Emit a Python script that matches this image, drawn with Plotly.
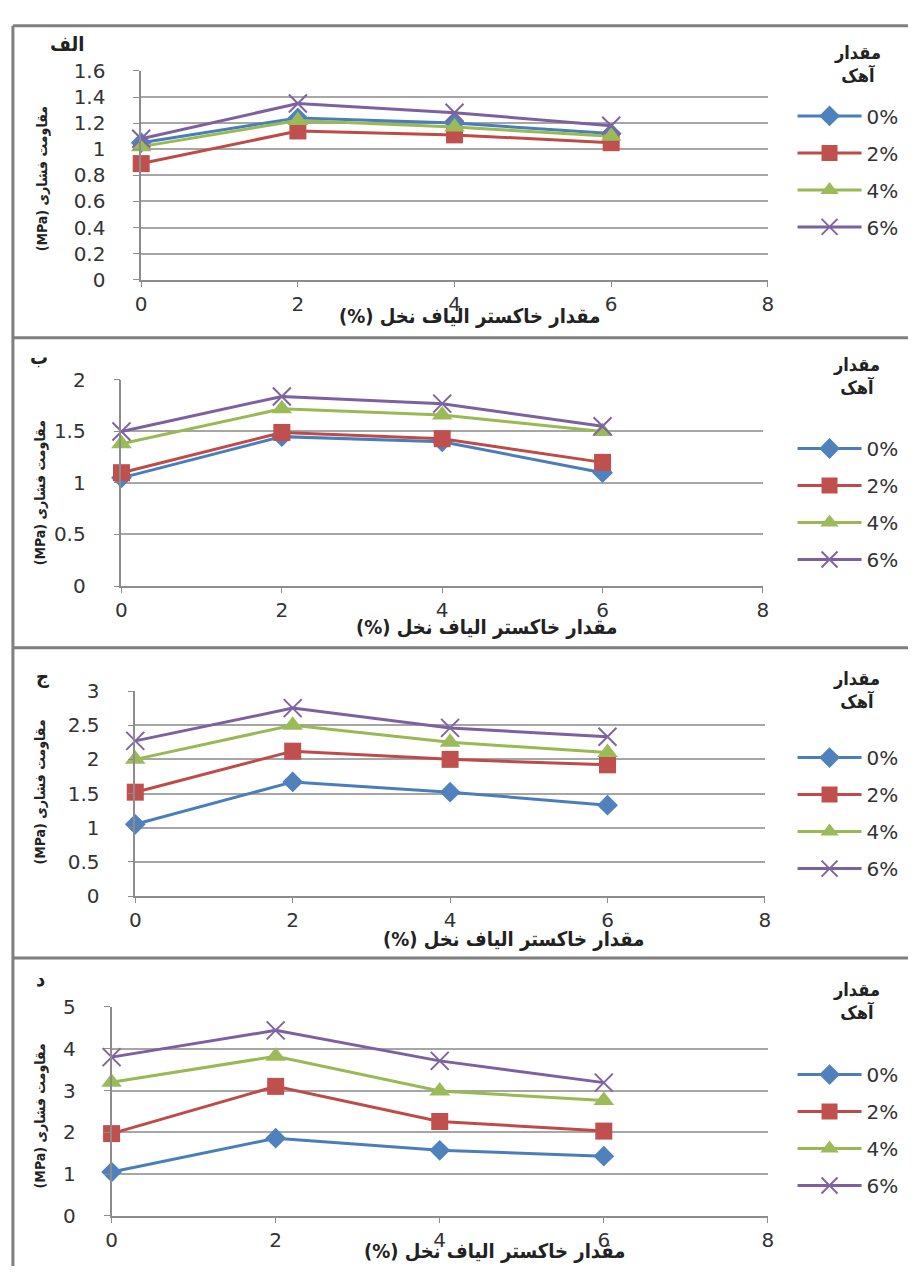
import plotly.graph_objects as go

# Palm-fibre ash content (%) on the x axis
ash = [0, 2, 4, 6]

# Lime content series names
lime_names = ["0%", "2%", "4%", "6%"]

# Compressive strength (MPa) per panel, one list per lime content
panel_a_0 = [1.05, 1.24, 1.20, 1.12]
panel_a_2 = [0.89, 1.14, 1.11, 1.05]
panel_a_4 = [1.02, 1.22, 1.17, 1.10]
panel_a_6 = [1.08, 1.35, 1.28, 1.18]

panel_b_0 = [1.05, 1.45, 1.40, 1.10]
panel_b_2 = [1.10, 1.49, 1.43, 1.20]
panel_b_4 = [1.38, 1.72, 1.66, 1.50]
panel_b_6 = [1.50, 1.84, 1.77, 1.55]

panel_c_0 = [1.05, 1.67, 1.52, 1.33]
panel_c_2 = [1.52, 2.12, 2.00, 1.92]
panel_c_4 = [2.00, 2.50, 2.25, 2.10]
panel_c_6 = [2.27, 2.75, 2.46, 2.33]

panel_d_0 = [1.05, 1.86, 1.57, 1.43]
panel_d_2 = [1.97, 3.10, 2.26, 2.03]
panel_d_4 = [3.20, 3.82, 2.99, 2.76]
panel_d_6 = [3.80, 4.44, 3.71, 3.19]

panel_labels = ["الف", "ب", "ج", "د"]
y_ranges = [[0, 1.6], [0, 2], [0, 3], [0, 5]]
y_dticks = [0.2, 0.5, 0.5, 1]

# Right-to-left embedding so the Persian titles lay out correctly
RLE, PDF = "\u202b", "\u202c"
x_title = RLE + "مقدار خاکستر الیاف نخل (%)" + PDF
y_title = RLE + "مقاومت فشاری (MPa)" + PDF
legend_title = "مقدار<br>آهک"

W, H = 914, 1278

def px_x(v):
    return v / W

def px_y(v):
    return 1 - v / H

# Plot areas in pixels: (x_left, x_right, y_top, y_bottom)
areas = [
    (137, 772, 60, 273),
    (117, 767, 375, 585),
    (131, 769, 692, 901),
    (107, 772, 1014, 1227),
]
# Legend item top, legend heading, axis titles, panel labels (pixels)
legend_tops = [86, 425, 740, 1063]
legend_head = [(863, 53), (862, 371), (862, 691), (862, 1008)]
# x-title: (centre x, y, vertical anchor)
xtitle_pos = [(470, 310, "middle"), (487, 627, "middle"),
              (514, 945, "middle"), (495, 1277, "bottom")]
ytitle_pos = [(37, 170), (35, 490), (35, 795), (35, 1125)]
label_pos = [(62, 33), (33, 352), (37, 677), (35, 985)]

line_colors = ["#4A7EBB", "#BE4B48", "#98B954", "#7D60A0"]
marker_colors = ["#4F81BD", "#C0504D", "#9BBB59", "#8064A2"]
symbols = ["diamond", "square", "triangle-up", "x-thin"]
sizes = [16, 17, 18, 18]

panels = [
    [panel_a_0, panel_a_2, panel_a_4, panel_a_6],
    [panel_b_0, panel_b_2, panel_b_4, panel_b_6],
    [panel_c_0, panel_c_2, panel_c_4, panel_c_6],
    [panel_d_0, panel_d_2, panel_d_4, panel_d_6],
]

TICK_FONT = dict(family="DejaVu Sans", size=20, color="#333333")
AR_FONT = "DejaVu Sans Condensed, DejaVu Sans"

fig = go.Figure()
layout = dict(
    width=W, height=H,
    margin=dict(l=0, r=0, t=0, b=0),
    paper_bgcolor="white", plot_bgcolor="white",
    annotations=[], shapes=[],
)

for p, series in enumerate(panels):
    sfx = "" if p == 0 else str(p + 1)
    xa, ya = "x" + sfx, "y" + sfx
    leg = "legend" + sfx
    for s, vals in enumerate(series):
        if symbols[s] == "x-thin":
            marker = dict(symbol="x-thin", size=sizes[s],
                          line=dict(color=marker_colors[s], width=2),
                          color=marker_colors[s])
        else:
            marker = dict(symbol=symbols[s], size=sizes[s],
                          color=marker_colors[s],
                          line=dict(color=marker_colors[s], width=0))
        fig.add_trace(go.Scatter(
            x=ash, y=vals, name=lime_names[s], mode="lines+markers",
            line=dict(color=line_colors[s], width=3),
            marker=marker, xaxis=xa, yaxis=ya, legend=leg,
            legendgroup=f"g{p}{s}", cliponaxis=False,
        ))
    xl, xr, yt, yb = areas[p]
    layout["xaxis" + sfx] = dict(
        domain=[px_x(xl), px_x(xr)], anchor=ya, range=[0, 8], dtick=2,
        tick0=0, showgrid=False, zeroline=False, showline=True,
        linecolor="#8c8c8c", linewidth=1.5, ticks="outside", ticklen=5,
        tickcolor="#8c8c8c", tickfont=TICK_FONT, ticklabelstandoff=0,
    )
    layout["yaxis" + sfx] = dict(
        domain=[px_y(yb), px_y(yt)], anchor=xa, range=y_ranges[p],
        dtick=y_dticks[p], tick0=0, showgrid=True, gridcolor="#a6a6a6",
        gridwidth=1.5, zeroline=False, showline=True, linecolor="#8c8c8c",
        linewidth=1.5, ticks="outside", ticklen=6, tickcolor="#8c8c8c",
        tickfont=TICK_FONT, ticklabelstandoff=24,
    )
    layout[leg] = dict(
        x=px_x(797), y=px_y(legend_tops[p]), xanchor="left", yanchor="top",
        bgcolor="rgba(0,0,0,0)", itemwidth=64, tracegroupgap=8,
        traceorder="grouped",
        font=dict(family="DejaVu Sans", size=20, color="#333333"),
    )
    # Legend heading, axis titles and panel label
    hx, hy = legend_head[p]
    layout["annotations"].append(dict(
        text=legend_title, x=px_x(hx), y=px_y(hy), xref="paper",
        yref="paper", showarrow=False, xanchor="center", yanchor="middle",
        font=dict(family=AR_FONT, size=18, color="#222222", weight="bold"),
    ))
    tx, ty, tanchor = xtitle_pos[p]
    layout["annotations"].append(dict(
        text=x_title, x=px_x(tx), y=px_y(ty), xref="paper", yref="paper",
        showarrow=False, xanchor="center", yanchor=tanchor,
        font=dict(family=AR_FONT, size=20, color="#222222", weight="bold"),
    ))
    tx, ty = ytitle_pos[p]
    layout["annotations"].append(dict(
        text=y_title, x=px_x(tx), y=px_y(ty), xref="paper", yref="paper",
        showarrow=False, textangle=-90, xanchor="center", yanchor="middle",
        font=dict(family=AR_FONT, size=14, color="#222222", weight="bold"),
    ))
    tx, ty = label_pos[p]
    layout["annotations"].append(dict(
        text=panel_labels[p], x=px_x(tx), y=px_y(ty), xref="paper",
        yref="paper", showarrow=False, xanchor="center", yanchor="middle",
        font=dict(family=AR_FONT, size=20, color="#222222", weight="bold"),
    ))

# Frame lines around and between the panels
frame = dict(color="#7f7f7f", width=3)
layout["shapes"].append(dict(type="line", xref="paper", yref="paper",
                             x0=px_x(7), x1=1, y0=px_y(14), y1=px_y(14),
                             line=frame))
layout["shapes"].append(dict(type="line", xref="paper", yref="paper",
                             x0=px_x(7), x1=px_x(7), y0=px_y(14), y1=0,
                             line=frame))
for yy in [332, 648, 964]:
    layout["shapes"].append(dict(type="line", xref="paper", yref="paper",
                                 x0=px_x(7), x1=1, y0=px_y(yy), y1=px_y(yy),
                                 line=frame))

fig.update_layout(**layout)
fig.write_html("out.html")
